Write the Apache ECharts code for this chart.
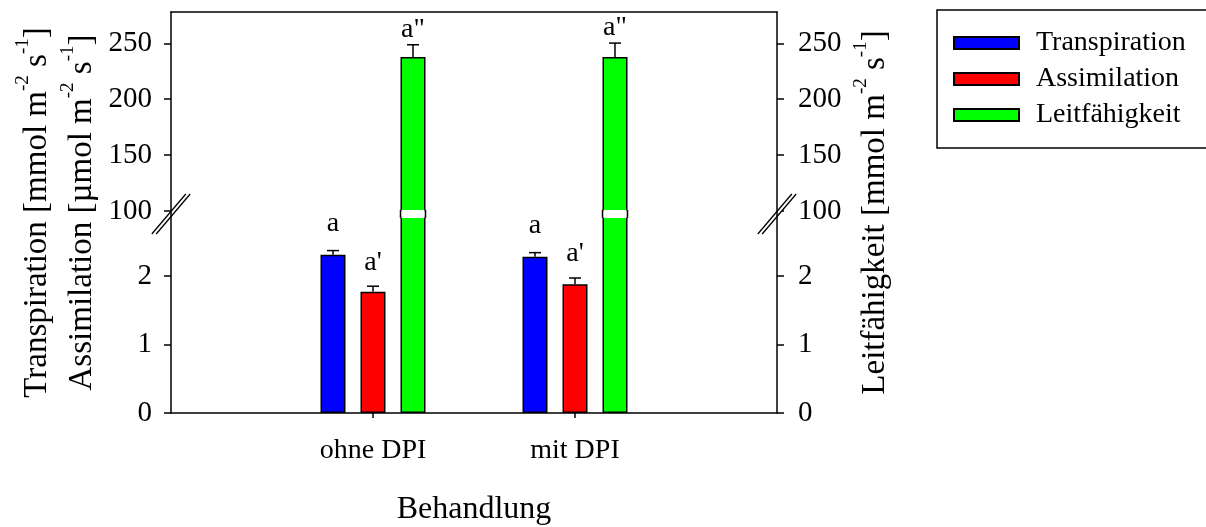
<!DOCTYPE html>
<html>
<head>
<meta charset="utf-8">
<script src="https://cdn.jsdelivr.net/npm/echarts@6/dist/echarts.min.js"></script>
<style>
  html, body { margin: 0; padding: 0; background: #ffffff; }
  #chart { width: 1206px; height: 527px; }
</style>
</head>
<body>
<div id="chart"></div>
<script>
// Treatments and measured means (with standard errors)
const categories = ['ohne DPI', 'mit DPI'];
const transpiration = [2.31, 2.28];        // mmol m-2 s-1
const transpirationErr = [0.06, 0.06];
const assimilation = [1.77, 1.88];         // µmol m-2 s-1
const assimilationErr = [0.08, 0.09];
const leitfaehigkeit = [237.7, 237.7];     // mmol m-2 s-1
const leitfaehigkeitErr = [11.0, 12.5];
// significance letters per series
const lettersT = ['a', 'a'];
const lettersA = ["a'", "a'"];
const lettersL = ['a"', 'a"'];
// tick values of the two axis segments
const lowerTicks = [0, 1, 2];
const upperTicks = [100, 150, 200, 250];
const lowerRange = [0, 2.86];
const upperRange = [100, 278];

const FONT = '"Liberation Serif", "Times New Roman", Times, serif';
const BAR_W = 25;
const BAR_STEP = 40;      // centre distance of neighbouring bars
const CAP = 6;
const LABEL_GAP = [13, 10, 1];
const GAP = 6;            // height of the axis break
const letters = [lettersT, lettersA, lettersL];

const slots = [''].concat(categories, ['']);
const pad = arr => ['-'].concat(arr, ['-']);
const empty = pad(categories.map(() => '-'));

const chart = echarts.init(document.getElementById('chart'));

const axisLineStyle = { color: '#000', width: 1.5 };

function xAxisBase(gridIndex) {
  return {
    type: 'category', gridIndex, data: slots, boundaryGap: false,
    axisLine: { show: true, lineStyle: axisLineStyle },
    splitLine: { show: false }
  };
}

function yAxisBase(gridIndex, position, range, ticks, interval) {
  return {
    type: 'value', gridIndex, position, min: range[0], max: range[1], interval,
    axisLine: { show: true, lineStyle: axisLineStyle },
    axisTick: { show: true, length: 7, lineStyle: axisLineStyle, customValues: ticks },
    axisLabel: {
      color: '#000', fontFamily: FONT, fontSize: 29,
      margin: position === 'left' ? 19 : 21, customValues: ticks
    },
    splitLine: { show: false }
  };
}

function barSeries(name, color, xi, yi, data) {
  return {
    type: 'bar', name, xAxisIndex: xi, yAxisIndex: yi, data,
    barWidth: BAR_W, barGap: '60%', clip: true, z: 2,
    itemStyle: { color, borderColor: '#000', borderWidth: 1.5 }
  };
}

function errorItem(params, api) {
  const slot = api.value(0), v = api.value(1), e = api.value(2), k = api.value(3);
  const p0 = api.coord([slot, v]);
  const p1 = api.coord([slot, v + e]);
  const cx = p0[0] + (k - 1) * BAR_STEP;
  const line = { stroke: '#000', lineWidth: 1.5 };
  const children = [];
  if (k === 2) {
    // white gap where the conductance bar crosses the axis break
    const yb = api.coord([slot, upperRange[0]])[1];
    children.push(
      {
        type: 'rect',
        shape: { x: cx - BAR_W / 2 + 0.75, y: yb - 1, width: BAR_W - 1.5, height: GAP + 2 },
        style: { fill: '#fff' }
      },
      { type: 'line', shape: { x1: cx - BAR_W / 2, y1: yb - 1, x2: cx - BAR_W / 2, y2: yb + GAP + 1 }, style: line },
      { type: 'line', shape: { x1: cx + BAR_W / 2, y1: yb - 1, x2: cx + BAR_W / 2, y2: yb + GAP + 1 }, style: line }
    );
  }
  children.push(
    { type: 'line', shape: { x1: cx, y1: p0[1], x2: cx, y2: p1[1] }, style: line },
    { type: 'line', shape: { x1: cx - CAP, y1: p1[1], x2: cx + CAP, y2: p1[1] }, style: line },
    {
      type: 'text', x: cx, y: p1[1] - LABEL_GAP[k],
      style: {
        text: letters[k][slot - 1], font: '28px ' + FONT, fill: '#000',
        align: 'center', verticalAlign: 'bottom',
        textAlign: 'center', textVerticalAlign: 'bottom'
      }
    }
  );
  return { type: 'group', children };
}

const lowerErrData = [];
const upperErrData = [];
categories.forEach((c, i) => {
  lowerErrData.push([i + 1, transpiration[i], transpirationErr[i], 0]);
  lowerErrData.push([i + 1, assimilation[i], assimilationErr[i], 1]);
  upperErrData.push([i + 1, leitfaehigkeit[i], leitfaehigkeitErr[i], 2]);
});

const option = {
  animation: false,
  backgroundColor: '#fff',
  grid: [
    { left: 171, right: 429, top: 217, height: 200 },   // lower segment
    { left: 171, right: 429, top: 12, height: 199 }     // upper segment
  ],
  legend: {
    orient: 'vertical', left: 937, top: 10,
    padding: [18, 40, 18, 16],
    borderColor: '#000', borderWidth: 1.5,
    itemWidth: 65, itemHeight: 12, itemGap: 6,
    icon: 'rect', selectedMode: false,
    data: ['Transpiration', 'Assimilation', 'Leitfähigkeit'],
    textStyle: { color: '#000', fontFamily: FONT, fontSize: 28, lineHeight: 30, padding: [0, 0, 0, 12] }
  },
  xAxis: [
    Object.assign(xAxisBase(0), {
      position: 'bottom',
      axisTick: { show: true, length: 5, lineStyle: axisLineStyle, interval: i => i === 1 || i === 2 },
      axisLabel: { color: '#000', fontFamily: FONT, fontSize: 28, margin: 24, interval: i => i === 1 || i === 2 },
      name: 'Behandlung', nameLocation: 'middle', nameGap: 81,
      nameTextStyle: { color: '#000', fontFamily: FONT, fontSize: 32 }
    }),
    Object.assign(xAxisBase(1), {
      position: 'top',
      axisTick: { show: false },
      axisLabel: { show: false }
    })
  ],
  yAxis: [
    yAxisBase(0, 'left', lowerRange, lowerTicks, 1),
    yAxisBase(0, 'right', lowerRange, lowerTicks, 1),
    yAxisBase(1, 'left', upperRange, upperTicks, 50),
    yAxisBase(1, 'right', upperRange, upperTicks, 50)
  ],
  series: [
    barSeries('Transpiration', '#0000ff', 0, 0, pad(transpiration)),
    barSeries('Assimilation', '#ff0000', 0, 0, pad(assimilation)),
    barSeries('Leitfähigkeit', '#00ff00', 0, 1, pad(leitfaehigkeit)),
    barSeries('Transpiration', '#0000ff', 1, 2, empty),
    barSeries('Assimilation', '#ff0000', 1, 2, empty),
    barSeries('Leitfähigkeit', '#00ff00', 1, 3, pad(leitfaehigkeit)),
    { type: 'custom', name: 'err-lower', xAxisIndex: 0, yAxisIndex: 0, z: 5,
      renderItem: errorItem, data: lowerErrData, clip: false },
    { type: 'custom', name: 'err-upper', xAxisIndex: 1, yAxisIndex: 3, z: 5,
      renderItem: errorItem, data: upperErrData, clip: false }
  ]
};

chart.setOption(option);

// axis break marks, axis connectors and rotated axis titles
const xLeft = chart.convertToPixel({ xAxisIndex: 0 }, 0);
const xRight = chart.convertToPixel({ xAxisIndex: 0 }, slots.length - 1);
const yLowTop = chart.convertToPixel({ yAxisIndex: 0 }, lowerRange[1]);
const yUpBottom = chart.convertToPixel({ yAxisIndex: 2 }, upperRange[0]);
const yBreak = (yLowTop + yUpBottom) / 2;
const yTop = chart.convertToPixel({ yAxisIndex: 2 }, upperRange[1]);
const yBottom = chart.convertToPixel({ yAxisIndex: 0 }, lowerRange[0]);
const yMid = (yTop + yBottom) / 2;

function breakMark(x) {
  const dx = 17, dy = 20, off = 2.2;
  const ls = { stroke: '#000', lineWidth: 1.3 };
  return [
    { type: 'polygon', z: 100,
      shape: { points: [[x - dx - off, yBreak + dy], [x + dx - off, yBreak - dy], [x + dx + off, yBreak - dy], [x - dx + off, yBreak + dy]] },
      style: { fill: '#fff' } },
    { type: 'line', z: 101, shape: { x1: x, y1: yUpBottom, x2: x, y2: yLowTop }, style: { stroke: '#000', lineWidth: 1.5 } },
    { type: 'line', z: 102, shape: { x1: x - dx - off, y1: yBreak + dy, x2: x + dx - off, y2: yBreak - dy }, style: ls },
    { type: 'line', z: 102, shape: { x1: x - dx + off, y1: yBreak + dy, x2: x + dx + off, y2: yBreak - dy }, style: ls }
  ];
}

const rich = {
  m: { fontSize: 33, fontFamily: FONT, lineHeight: 40, verticalAlign: 'bottom', color: '#000' },
  s: { fontSize: 19, fontFamily: FONT, verticalAlign: 'top', color: '#000' }
};

// one rotated title line: main text with superscript exponents
function title(x, label, unit) {
  return {
    type: 'text', x, y: yMid, rotation: Math.PI / 2, z: 100,
    style: {
      text: '{m|' + label + ' [' + unit + ' m}{s|-2}{m| s}{s|-1}{m|]}',
      rich, fill: '#000',
      align: 'center', verticalAlign: 'middle',
      textAlign: 'center', textVerticalAlign: 'middle'
    }
  };
}

chart.setOption({
  graphic: [].concat(
    breakMark(xLeft),
    breakMark(xRight),
    [
      title(34, 'Transpiration', 'mmol'),
      title(79, 'Assimilation', 'µmol'),
      title(872, 'Leitfähigkeit', 'mmol')
    ]
  )
});
</script>
</body>
</html>
